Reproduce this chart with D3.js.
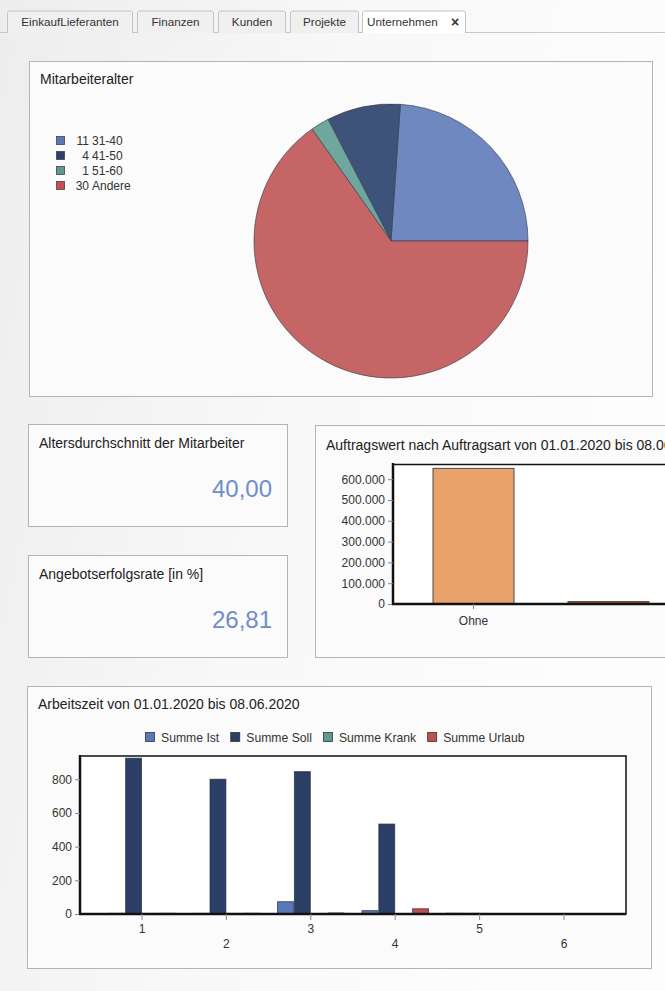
<!DOCTYPE html>
<html><head><meta charset="utf-8">
<script src="https://cdn.jsdelivr.net/npm/d3@7"></script>
<style>
html,body{margin:0;padding:0;width:665px;height:991px;overflow:hidden;background:#f7f7f7;}
svg{display:block;font-family:"Liberation Sans",Arial,sans-serif;}
</style></head><body>
<svg id="c" width="665" height="991"></svg>
<script>
// ---------- data ----------
const tabs = ["EinkaufLieferanten","Finanzen","Kunden","Projekte","Unternehmen"];
const ageGroups = ["31-40","41-50","51-60","Andere"];
const ageCounts = [11,4,1,30];
const ageColors = ["#7088c0","#3e5379","#6fa69e","#c56565"];
const ageLegendColors = ["#5b78b8","#2b3f69","#5f9890","#c64e4e"];
const kpiTitles = ["Altersdurchschnitt der Mitarbeiter","Angebotserfolgsrate [in %]"];
const kpiValues = ["40,00","26,81"];
const orderTypes = ["Ohne",""];
const orderValues = [652000, 12000];
const orderColors = ["#e9a16a","#8a5a3c"];
const orderTicks = [0,100000,200000,300000,400000,500000,600000];
const months = ["1","2","3","4","5","6"];
const seriesNames = ["Summe Ist","Summe Soll","Summe Krank","Summe Urlaub"];
const seriesColors = ["#5b78b8","#2b3e66","#5f9a92","#c44c4c"];
const sumIst    = [5, 5, 73, 20, 6, 0];
const sumSoll   = [925, 800, 845, 534, 5, 0];
const sumKrank  = [4, 4, 0, 0, 0, 0];
const sumUrlaub = [6, 6, 8, 31, 0, 0];
const workTicks = [0,200,400,600,800];

// ---------- setup ----------
const svg = d3.select("#c");
const defs = svg.append("defs");
const bg = defs.append("linearGradient").attr("id","bg").attr("x1","0").attr("x2","1").attr("y1","0").attr("y2","0.3");
bg.append("stop").attr("offset","0").attr("stop-color","#ededed");
bg.append("stop").attr("offset","0.5").attr("stop-color","#f8f8f8");
bg.append("stop").attr("offset","1").attr("stop-color","#fdfdfd");
svg.append("rect").attr("width",665).attr("height",991).attr("fill","url(#bg)");

// tabs
const tabX = [7,137,218,290,362], tabW = [126,77,68,69,104];
svg.append("line").attr("x1",0).attr("x2",665).attr("y1",32.5).attr("y2",32.5).attr("stroke","#c8c8c8");
const tg = svg.selectAll("g.tab").data(tabs).join("g").attr("class","tab");
tg.append("path")
  .attr("d",(d,i)=>`M${tabX[i]+0.5},33 V13 Q${tabX[i]+0.5},11 ${tabX[i]+2.5},11 H${tabX[i]+tabW[i]-2.5} Q${tabX[i]+tabW[i]-0.5},11 ${tabX[i]+tabW[i]-0.5},13 V33`)
  .attr("fill",(d,i)=>i===4?"#ffffff":"#f0f0f0").attr("stroke","#c4c4c4");
tg.append("text").attr("x",(d,i)=>i===4?tabX[i]+5:tabX[i]+tabW[i]/2).attr("y",26)
  .attr("text-anchor",(d,i)=>i===4?"start":"middle").attr("font-size",11.7).attr("fill","#333").text(d=>d);
svg.append("text").attr("x",455).attr("y",26.5).attr("text-anchor","middle").attr("font-size",14)
  .attr("font-weight","bold").attr("fill","#333").text("×");

function panel(x,y,w,h){
  svg.append("rect").attr("x",x+0.5).attr("y",y+0.5).attr("width",w).attr("height",h)
    .attr("fill","#fbfbfb").attr("stroke","#b4b4b4");
}
function title(x,y,t){
  svg.append("text").attr("x",x).attr("y",y).attr("font-size",14).attr("fill","#222").text(t);
}
const FF = "Liberation Sans, Arial, sans-serif";

// ---------- pie panel ----------
panel(29,61,623,335);
title(40,84,"Mitarbeiteralter");
const pie = d3.pie().sort(null).startAngle(Math.PI/2).endAngle(Math.PI/2 - 2*Math.PI);
const arc = d3.arc().innerRadius(0).outerRadius(137);
const pg = svg.append("g").attr("transform","translate(391,241)");
pg.selectAll("path").data(pie(ageCounts)).join("path")
  .attr("d",arc).attr("fill",(d,i)=>ageColors[i]).attr("stroke","#3a3a4a").attr("stroke-width",0.8).attr("stroke-opacity",0.8);
const lg = svg.selectAll("g.pl").data(ageGroups).join("g").attr("class","pl")
  .attr("transform",(d,i)=>`translate(56,${136+i*15})`);
lg.append("rect").attr("x",0.5).attr("y",0.5).attr("width",8).attr("height",8)
  .attr("fill",(d,i)=>ageLegendColors[i]).attr("stroke","#444").attr("stroke-width",0.8);
lg.append("text").attr("x",33).attr("y",9).attr("text-anchor","end").attr("font-size",12).attr("fill","#333").text((d,i)=>ageCounts[i]);
lg.append("text").attr("x",36).attr("y",9).attr("font-size",12).attr("fill","#333").text(d=>d);

// ---------- KPI panels ----------
const kpiY = [424,555];
kpiTitles.forEach((t,i)=>{
  panel(28,kpiY[i],259,102);
  title(39,kpiY[i]+24,t);
  svg.append("text").attr("x",272).attr("y",kpiY[i]+73).attr("text-anchor","end")
    .attr("font-size",24).attr("fill","#6f8ec8").text(kpiValues[i]);
});

// ---------- order value panel ----------
panel(315,425,360,232);
title(326,450,"Auftragswert nach Auftragsart von 01.01.2020 bis 08.06.2020");
const de = d3.formatLocale({decimal:",",thousands:".",grouping:[3],currency:["","€"]});
const yO = d3.scaleLinear().domain([0,673000]).range([604,464]);
const xO = d3.scaleBand().domain(orderTypes).range([406,676]).paddingInner(0.4).paddingOuter(0.2);
const og = svg.append("g");
og.append("rect").attr("x",393).attr("y",464).attr("width",300).attr("height",140).attr("fill","#ffffff");
og.selectAll("rect.b").data(orderValues).join("rect").attr("class","b")
  .attr("x",(d,i)=>xO(orderTypes[i])).attr("width",xO.bandwidth())
  .attr("y",d=>yO(d)).attr("height",d=>yO(0)-yO(d))
  .attr("fill",(d,i)=>orderColors[i]).attr("stroke",(d,i)=>i===0?"#4a4a4a":"#6a4a35").attr("stroke-width",1);
og.append("line").attr("x1",393).attr("x2",665).attr("y1",464.5).attr("y2",464.5).attr("stroke","#111").attr("stroke-width",1.5);
const yAxO = og.append("g").attr("transform","translate(393,0)")
  .call(d3.axisLeft(yO).tickValues(orderTicks).tickFormat(de.format(",")).tickSize(5).tickSizeOuter(0));
yAxO.select(".domain").attr("stroke","#111").attr("stroke-width",2.5).attr("d","M0,463V605");
yAxO.selectAll(".tick line").attr("stroke","#888");
yAxO.selectAll("text").attr("font-size",12).attr("fill","#333").attr("font-family",FF);
const xAxO = og.append("g").attr("transform","translate(0,604)")
  .call(d3.axisBottom(xO).tickValues(["Ohne"]).tickSize(5).tickSizeOuter(0));
xAxO.select(".domain").attr("stroke","#111").attr("stroke-width",2.5).attr("d","M392,0H665");
xAxO.selectAll(".tick line").attr("stroke","#888");
xAxO.selectAll("text").attr("font-size",12).attr("fill","#333").attr("dy","1.05em").attr("font-family",FF);

// ---------- working time panel ----------
panel(27,686,624,282);
title(38,709,"Arbeitszeit von 01.01.2020 bis 08.06.2020");
// legend
const leg = svg.append("g");
let lx = 145;
seriesNames.forEach((n,i)=>{
  const g = leg.append("g").attr("transform",`translate(${lx},732)`);
  g.append("rect").attr("x",0.5).attr("y",0.5).attr("width",9).attr("height",9)
    .attr("fill",seriesColors[i]).attr("stroke","#333").attr("stroke-width",0.8);
  const t = g.append("text").attr("x",16).attr("y",9.8).attr("font-size",12.2).attr("fill","#333").text(n);
  lx += 16 + t.node().getComputedTextLength() + 11;
});
const series = [sumIst,sumSoll,sumKrank,sumUrlaub];
const yW = d3.scaleLinear().domain([0,938]).range([914,756]);
const xW = d3.scaleBand().domain(months).range([99.8,606.2]).paddingInner(0.2).paddingOuter(0.1);
const xS = d3.scaleBand().domain(seriesNames).range([0,xW.bandwidth()]);
const wg = svg.append("g");
wg.append("rect").attr("x",80).attr("y",756).attr("width",546).attr("height",158).attr("fill","#ffffff")
  .attr("stroke","#111").attr("stroke-width",1.5);
const grp = wg.selectAll("g.m").data(months).join("g").attr("class","m")
  .attr("transform",d=>`translate(${xW(d)},0)`);
grp.selectAll("rect").data((m,mi)=>series.map((s,si)=>({v:s[mi],si}))).join("rect")
  .filter(d=>d.v>0)
  .attr("x",d=>xS(seriesNames[d.si])+0.5).attr("width",xS.bandwidth()-1)
  .attr("y",d=>yW(d.v)).attr("height",d=>yW(0)-yW(d.v))
  .attr("fill",d=>seriesColors[d.si]).attr("stroke","#1f2a3f").attr("stroke-width",1).attr("stroke-opacity",d=>d.v<10?0.25:0.7);
const yAxW = wg.append("g").attr("transform","translate(80,0)")
  .call(d3.axisLeft(yW).tickValues(workTicks).tickSize(5).tickSizeOuter(0));
yAxW.select(".domain").attr("stroke","#111").attr("stroke-width",2.5).attr("d","M0,755V915");
yAxW.selectAll(".tick line").attr("stroke","#888");
yAxW.selectAll("text").attr("font-size",12).attr("fill","#333").attr("font-family",FF);
const xAxW = wg.append("g").attr("transform","translate(0,914)")
  .call(d3.axisBottom(xW).tickSize(6).tickSizeOuter(0));
xAxW.select(".domain").attr("stroke","#111").attr("stroke-width",2.5).attr("d","M79,0H626");
xAxW.selectAll(".tick line").attr("stroke","#888");
xAxW.selectAll("text").attr("font-size",12).attr("fill","#333").attr("font-family",FF)
  .attr("y",(d,i)=>i%2===0?10:25).attr("dy","0.71em");
</script>
</body></html>
